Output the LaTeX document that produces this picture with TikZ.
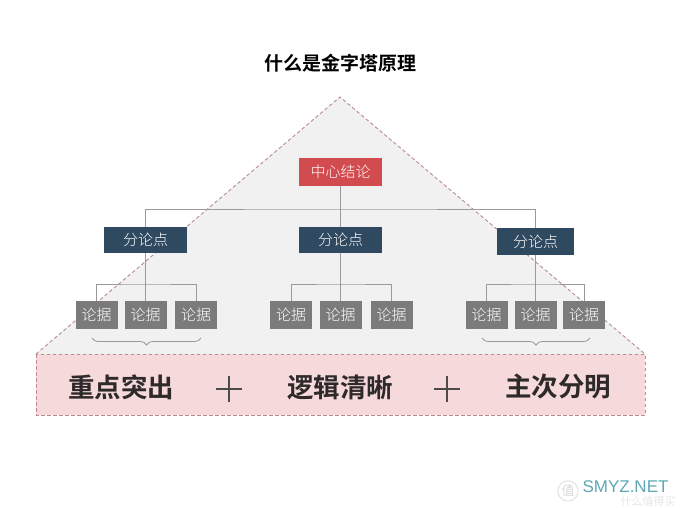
\documentclass[tikz,border=0pt]{standalone}
\usepackage{fontspec}
\setmainfont{Noto Sans CJK SC}
\newfontfamily\cjkbold[BoldFont=Noto Sans CJK SC Bold]{Noto Sans CJK SC}
\newfontfamily\cjklight{Noto Sans CJK SC Light}
\newfontfamily\latinwm{Liberation Sans}
\usetikzlibrary{decorations.pathreplacing,calc}
\definecolor{bgray}{HTML}{F1F1F1}
\definecolor{bpink}{HTML}{F6D9DB}
\definecolor{dashc}{HTML}{B98A90}
\definecolor{redbox}{HTML}{D24B4E}
\definecolor{bluebox}{HTML}{2F4A60}
\definecolor{graybox}{HTML}{7B7B7B}
\definecolor{linec}{HTML}{9A9A9A}
\definecolor{inktext}{HTML}{2E2A2A}
\definecolor{wmteal}{HTML}{5FA8B5}
\tikzset{
  x=1pt,y=-1pt,
  boxbase/.style={anchor=center,inner sep=0pt,text=white,font=\cjklight\fontsize{15}{15}\selectfont},
  topbox/.style={boxbase,fill=redbox,minimum width=83pt,minimum height=28pt},
  midbox/.style={boxbase,fill=bluebox,minimum width=83pt,minimum height=26pt},
  midboxr/.style={boxbase,fill=bluebox,minimum width=77pt,minimum height=27pt},
  leafbox/.style={boxbase,fill=graybox,minimum width=42pt,minimum height=28pt},
  wire/.style={draw=linec,line width=0.9pt},
  dashline/.style={draw=dashc,line width=0.9pt,dash pattern=on 3.5pt off 2.5pt},
  bigword/.style={inner sep=0pt,text=inktext,font=\cjkbold\bfseries\fontsize{26.5}{26.5}\selectfont},
  plusmark/.style={draw=inktext!85,line width=1.1pt},
  bracemark/.style={draw=linec,line width=0.8pt,decorate,decoration={brace,mirror,amplitude=7pt}},
}
\begin{document}
\begin{tikzpicture}
\useasboundingbox (0,0) rectangle (680,507);
\fill[white] (0,0) rectangle (680,507);
% pyramid and band
\path[fill=bgray] (340,97) -- (645,354) -- (36,354) -- cycle;
\draw[dashline] (36,354) -- (340,97) -- (645,354);
\path[fill=bpink] (36,354) rectangle (645,415);
\draw[dashline] (36,354) rectangle (645,415);
\node[inner sep=0pt,font=\cjkbold\bfseries\fontsize{19}{19}\selectfont,text=black] (title) at (340,63) {什么是金字塔原理};
% nodes
\node[topbox] (top) at (340.5,171.5) {中心结论};
\node[midbox] (ml) at (145.5,240) {分论点};
\node[midbox] (mm) at (340.5,240) {分论点};
\node[midboxr] (mr) at (535.5,241.5) {分论点};
\node[leafbox] (l1) at (96.5,315) {论据};
\node[leafbox] (l2) at (145.5,315) {论据};
\node[leafbox] (l3) at (196,315) {论据};
\node[leafbox] (m1) at (291,315) {论据};
\node[leafbox] (m2) at (340.5,315) {论据};
\node[leafbox] (m3) at (391.5,315) {论据};
\node[leafbox] (r1) at (486.5,315) {论据};
\node[leafbox] (r2) at (535.5,315) {论据};
\node[leafbox] (r3) at (584,315) {论据};
% buses
\coordinate (bus0) at (340.5,209);
\coordinate (bus1) at (340.5,284);
\draw[wire] (top.south) -- (mm.north);
\draw[wire] (ml.north) |- (bus0) -| (mr.north);
\draw[wire] (ml.south) -- (l2.north);
\draw[wire] (mm.south) -- (m2.north);
\draw[wire] (mr.south) -- (r2.north);
\draw[wire] (l1.north) |- (bus1 -| l2.north) -| (l3.north);
\draw[wire] (m1.north) |- (bus1 -| m2.north) -| (m3.north);
\draw[wire] (r1.north) |- (bus1 -| r2.north) -| (r3.north);
% braces
\coordinate (bl1) at (92,338);
\coordinate (bl2) at (201,338);
\coordinate (br1) at (482,338);
\coordinate (br2) at (590,338);
\draw[bracemark] (bl1) -- (bl2);
\draw[bracemark] (br1) -- (br2);
% band text
\node[bigword] (w1) at (121,387) {重点突出};
\node[bigword] (w2) at (340,387) {逻辑清晰};
\node[bigword] (w3) at (558,387) {主次分明};
\draw[plusmark] (216,389) -- (242,389) (229,376) -- (229,402);
\draw[plusmark] (434,389) -- (460,389) (447,376) -- (447,402);
% watermark
\node[inner sep=0pt,text=black!14,font=\cjklight\fontsize{11}{11}\selectfont] (wm2) at (648,501) {什么值得买};
\node[circle,draw=black!15,line width=0.7pt,inner sep=1pt,text=black!22,font=\cjklight\fontsize{13}{13}\selectfont] (wm3) at (568,491) {值};
\node[inner sep=0pt,text=wmteal,font=\latinwm\fontsize{17}{17}\selectfont] (wm1) at (625.5,487) {SMYZ.NET};
\end{tikzpicture}
\end{document}
